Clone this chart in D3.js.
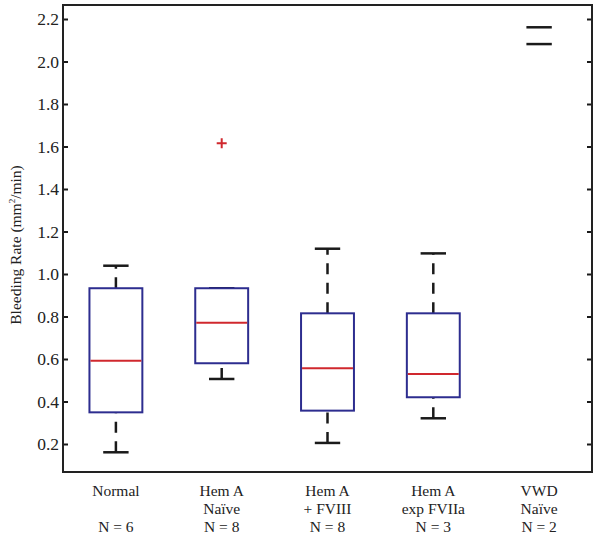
<!DOCTYPE html>
<html>
<head>
<meta charset="utf-8">
<script src="https://cdn.jsdelivr.net/npm/d3@7"></script>
<style>
  body { margin: 0; background: #fff; }
  svg { display: block; }
  text { font-family: "Liberation Serif", "DejaVu Serif", serif; fill: #222; }
</style>
</head>
<body>
<svg id="chart" width="600" height="540"></svg>
<script>
// ---- data ----
const positions = [1, 2, 3, 4, 5];
const labelLine1 = ["Normal", "Hem A", "Hem A", "Hem A", "VWD"];
const labelLine2 = ["", "Naïve", "+ FVIII", "exp FVIIa", "Naïve"];
const nLabels = ["N = 6", "N = 8", "N = 8", "N = 3", "N = 2"];
const whiskerLow  = [0.161, 0.506, 0.205, 0.321, 2.082];
const q1          = [0.349, 0.580, 0.357, 0.420, null];
const median      = [0.592, 0.771, 0.556, 0.529, null];
const q3          = [0.933, 0.933, 0.815, 0.815, null];
const whiskerHigh = [1.039, 0.933, 1.119, 1.097, 2.161];
const outliers    = [[], [1.615], [], [], []];
const yTicks = [0.2, 0.4, 0.6, 0.8, 1.0, 1.2, 1.4, 1.6, 1.8, 2.0, 2.2];
const yLabel = "Bleeding Rate (mm";

// ---- layout ----
const svg = d3.select("#chart");
const plotL = 63, plotR = 592, plotT = 5, plotB = 472;
const x = d3.scaleLinear().domain([0.5, 5.5]).range([plotL, plotR]);
const y = d3.scaleLinear().domain([0.2, 2.2]).range([444, 19]);
const boxHalf = 0.25, capHalf = 0.12;

const blue = "#2d2d8f", red = "#d0282e", black = "#1a1a1a";

// y axes (ticks inward on both sides)
const axL = d3.axisRight(y).tickValues(yTicks).tickSize(5).tickFormat("");
const axR = d3.axisLeft(y).tickValues(yTicks).tickSize(5).tickFormat("");
svg.append("g").attr("transform", `translate(${plotL},0)`).call(axL)
  .call(g => g.select(".domain").remove())
  .call(g => g.selectAll("line").attr("stroke", black).attr("stroke-width", 2));
svg.append("g").attr("transform", `translate(${plotR},0)`).call(axR)
  .call(g => g.select(".domain").remove())
  .call(g => g.selectAll("line").attr("stroke", black).attr("stroke-width", 2));

// tick labels
svg.append("g").selectAll("text").data(yTicks).join("text")
  .attr("x", plotL - 4).attr("y", d => y(d)).attr("dy", "0.35em")
  .attr("text-anchor", "end").attr("font-size", 17.5)
  .text(d => d3.format(".1f")(d));

// frame
svg.append("rect").attr("x", plotL).attr("y", plotT)
  .attr("width", plotR - plotL).attr("height", plotB - plotT)
  .attr("fill", "none").attr("stroke", "#222").attr("stroke-width", 2);

// y label
const yl = svg.append("text")
  .attr("transform", `translate(21,245) rotate(-90)`)
  .attr("text-anchor", "middle").attr("font-size", 15.5);
yl.append("tspan").text(yLabel);
yl.append("tspan").attr("font-size", 9).attr("dy", -6).text("2");
yl.append("tspan").attr("font-size", 15.5).attr("dy", 6).text("/min)");

// boxes
const g = svg.append("g");
positions.forEach((p, i) => {
  const cx = x(p);
  if (q1[i] !== null) {
    // whiskers drawn bottom-to-top so dash phase matches
    g.append("line").attr("x1", cx).attr("x2", cx)
      .attr("y1", y(whiskerLow[i])).attr("y2", y(q1[i]))
      .attr("stroke", black).attr("stroke-width", 2.5).attr("stroke-dasharray", "11,8.5");
    g.append("line").attr("x1", cx).attr("x2", cx)
      .attr("y1", y(q3[i])).attr("y2", y(whiskerHigh[i]))
      .attr("stroke", black).attr("stroke-width", 2.5).attr("stroke-dasharray", "11,8.5");
  }
  [whiskerLow[i], whiskerHigh[i]].forEach(v => {
    g.append("line").attr("x1", x(p - capHalf)).attr("x2", x(p + capHalf))
      .attr("y1", y(v)).attr("y2", y(v))
      .attr("stroke", black).attr("stroke-width", 2.5);
  });
  if (q1[i] !== null) {
    g.append("rect").attr("x", x(p - boxHalf)).attr("y", y(q3[i]))
      .attr("width", x(p + boxHalf) - x(p - boxHalf)).attr("height", y(q1[i]) - y(q3[i]))
      .attr("fill", "#fff").attr("stroke", blue).attr("stroke-width", 2);
    g.append("line").attr("x1", x(p - boxHalf) + 1).attr("x2", x(p + boxHalf) - 1)
      .attr("y1", y(median[i])).attr("y2", y(median[i]))
      .attr("stroke", red).attr("stroke-width", 2);
  }
  outliers[i].forEach(v => {
    g.append("path")
      .attr("d", `M${cx - 5},${y(v)}H${cx + 5}M${cx},${y(v) - 5}V${y(v) + 5}`)
      .attr("stroke", red).attr("stroke-width", 2);
  });
});

// category labels
const lab = svg.append("g").attr("font-size", 15.5);
positions.forEach((p, i) => {
  lab.append("text").attr("x", x(p)).attr("y", 496).attr("text-anchor", "middle").text(labelLine1[i]);
  lab.append("text").attr("x", x(p)).attr("y", 514).attr("text-anchor", "middle").text(labelLine2[i]);
  lab.append("text").attr("x", x(p)).attr("y", 532).attr("text-anchor", "middle").text(nLabels[i]);
});
</script>
</body>
</html>
